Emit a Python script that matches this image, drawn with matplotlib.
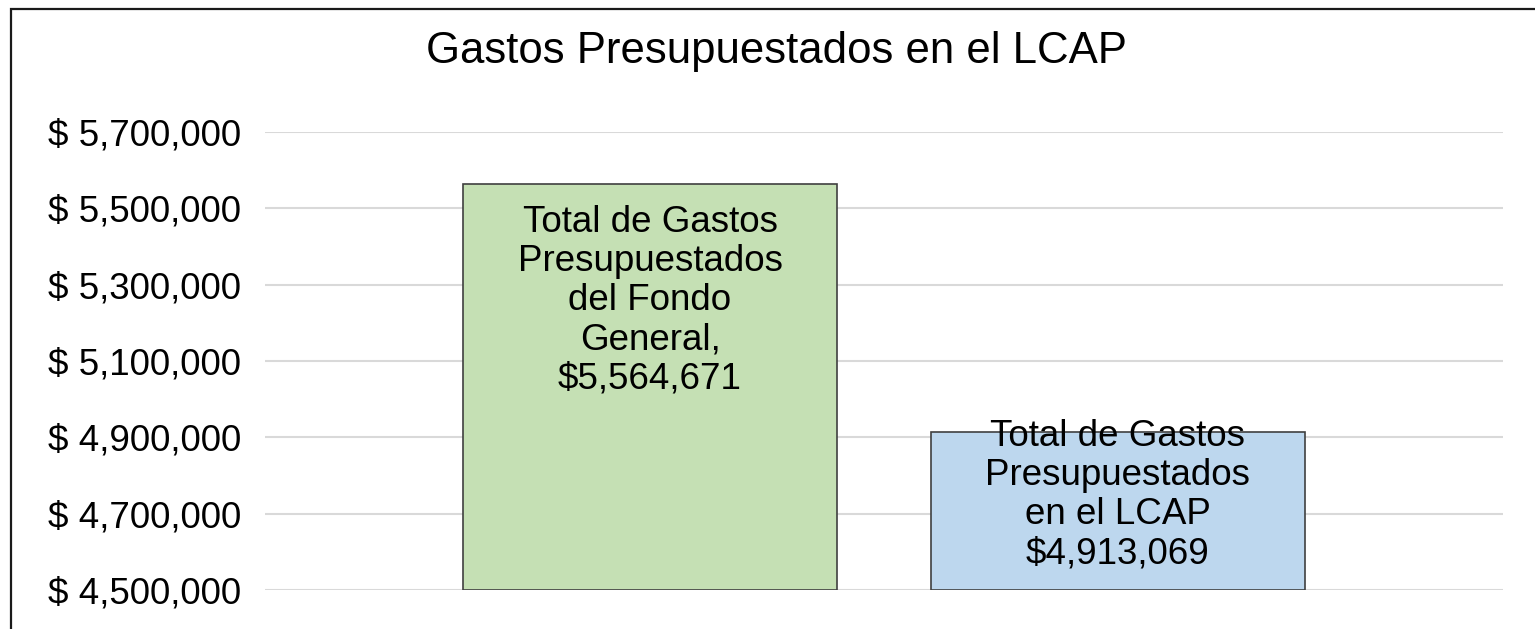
import matplotlib.pyplot as plt
from matplotlib.ticker import FuncFormatter
from matplotlib.patches import Rectangle

# Data
categories = ['Fondo General', 'LCAP']
values = [5564671, 4913069]
labels = ['Total de Gastos\nPresupuestados\ndel Fondo\nGeneral,\n$5,564,671',
          'Total de Gastos\nPresupuestados\nen el LCAP\n$4,913,069']
label_y = [5257500, 4749000]
colors = ['#C5E0B4', '#BDD7EE']
y_ticks = [4500000, 4700000, 4900000, 5100000, 5300000, 5500000, 5700000]

plt.rcParams['font.family'] = ['Liberation Sans', 'DejaVu Sans']

fig = plt.figure(figsize=(15.35, 6.29), dpi=100)
ax = fig.add_axes([265 / 1535, 1 - 590 / 629, (1503 - 265) / 1535, (590 - 132) / 629])

x = range(len(categories))
ax.bar(x, [v - y_ticks[0] for v in values], bottom=y_ticks[0], width=0.8,
       color=colors, edgecolor='#404040', linewidth=1.2, zorder=3)

for i, (txt, ly) in enumerate(zip(labels, label_y)):
    ax.text(i, ly, txt, ha='center', va='center', fontsize=26.5,
            linespacing=1.15, color='black', zorder=4)

ax.set_xlim(-0.823, 1.823)
ax.set_ylim(y_ticks[0], y_ticks[-1])
ax.set_yticks(y_ticks)
ax.yaxis.set_major_formatter(FuncFormatter(lambda v, p: '$ {:,.0f}'.format(v)))
ax.tick_params(axis='y', length=0, pad=17, labelsize=26.5)
ax.set_xticks([])
for s in ax.spines.values():
    s.set_visible(False)
ax.grid(axis='y', color='#D9D9D9', linewidth=1.5, zorder=0)
ax.set_axisbelow(True)

fig.text(0.506, 1 - 51 / 629, 'Gastos Presupuestados en el LCAP',
         ha='center', va='center', fontsize=31.5)

# Chart border (only top and left visible in the crop)
fig.add_artist(Rectangle((10.5 / 1535, -0.1), 1.2, 1.1 - 8.5 / 629,
                         transform=fig.transFigure, fill=False,
                         edgecolor='#1a1a1a', linewidth=1.6))

fig.savefig('out.png', dpi=100)
